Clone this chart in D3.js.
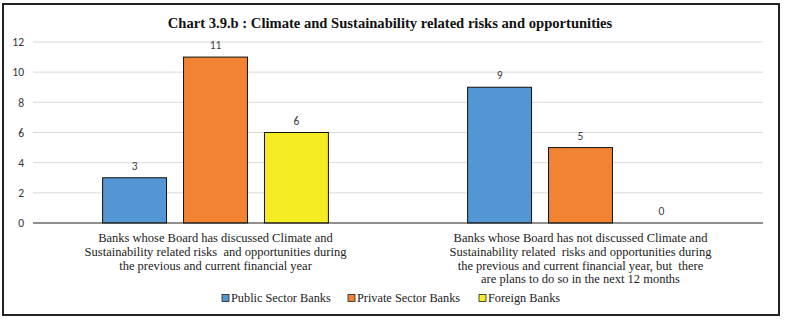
<!DOCTYPE html>
<html>
<head>
<meta charset="utf-8">
<script src="https://cdn.jsdelivr.net/npm/d3@7"></script>
<style>
  body { margin: 0; background: #fff; }
</style>
</head>
<body>
<div id="chart"></div>
<script>
// chart data
const categories = [
    ["Banks whose Board has discussed Climate and", "Sustainability related risks  and opportunities during", "the previous and current financial year"],
    ["Banks whose Board has not discussed Climate and", "Sustainability related  risks and opportunities during", "the previous and current financial year, but  there", "are plans to do so in the next 12 months"]
];
const seriesNames = ["Public Sector Banks", "Private Sector Banks", "Foreign Banks"];
const publicSector = [3, 9];
const privateSector = [11, 5];
const foreignBanks = [6, 0];
const yTicks = [0, 2, 4, 6, 8, 10, 12];
const colors = ["#5496d3", "#f28332", "#f5ec23"];

const seriesValues = [publicSector, privateSector, foreignBanks];

const width = 785, height = 321;
const margin = {top: 42, right: 22, bottom: 98, left: 33};

const svg = d3.select("#chart").append("svg")
    .attr("width", width)
    .attr("height", height);

// frame
svg.append("rect")
    .attr("x", 3).attr("y", 4)
    .attr("width", 776).attr("height", 311)
    .attr("fill", "none")
    .attr("stroke", "#222")
    .attr("stroke-width", 2);

// title
svg.append("text")
    .attr("x", 390)
    .attr("y", 28)
    .attr("text-anchor", "middle")
    .attr("font-family", "Liberation Serif, serif")
    .attr("font-weight", "bold")
    .attr("font-size", "14.6px")
    .attr("fill", "#111")
    .text("Chart 3.9.b : Climate and Sustainability related risks and opportunities");

const plotW = width - margin.left - margin.right;
const y = d3.scaleLinear()
    .domain([0, 12])
    .range([223, 42]);

const x0 = d3.scaleBand()
    .domain(d3.range(categories.length))
    .range([margin.left, margin.left + plotW])
    .padding(0);

const x1 = d3.scaleBand()
    .domain(d3.range(seriesNames.length))
    .range([0, x0.bandwidth()])
    .paddingInner(0.21)
    .paddingOuter(0.86);

// gridlines
svg.append("g")
    .selectAll("line")
    .data(yTicks.filter(d => d > 0))
    .enter().append("line")
    .attr("x1", margin.left)
    .attr("x2", margin.left + plotW)
    .attr("y1", d => y(d))
    .attr("y2", d => y(d))
    .attr("stroke", "#d9d9d9")
    .attr("stroke-width", 1);

// y axis labels
const yAxis = d3.axisLeft(y).tickValues(yTicks).tickSize(0).tickPadding(9);
const yg = svg.append("g")
    .attr("transform", `translate(${margin.left},0)`)
    .call(yAxis);
yg.select(".domain").remove();
yg.selectAll("text")
    .attr("font-family", "Carlito, Liberation Sans, sans-serif")
    .attr("font-size", "11.5px")
    .attr("fill", "#333");

// bars
const groups = svg.append("g")
    .selectAll("g")
    .data(categories.map((c, i) => i))
    .enter().append("g")
    .attr("transform", i => `translate(${x0(i)},0)`);

groups.selectAll("rect")
    .data(i => seriesValues.map((vals, s) => ({s: s, v: vals[i]})))
    .enter().append("rect")
    .filter(d => d.v > 0)
    .attr("x", d => x1(d.s))
    .attr("y", d => y(d.v))
    .attr("width", x1.bandwidth())
    .attr("height", d => y(0) - y(d.v))
    .attr("fill", d => colors[d.s])
    .attr("stroke", "#111")
    .attr("stroke-width", 1);

groups.selectAll("text.val")
    .data(i => seriesValues.map((vals, s) => ({s: s, v: vals[i]})))
    .enter().append("text")
    .attr("class", "val")
    .attr("x", d => x1(d.s) + x1.bandwidth() / 2)
    .attr("y", d => y(d.v) - 8)
    .attr("text-anchor", "middle")
    .attr("font-family", "Carlito, Liberation Sans, sans-serif")
    .attr("font-size", "11.5px")
    .attr("fill", "#404040")
    .text(d => d.v);

// x axis line
svg.append("line")
    .attr("x1", margin.left)
    .attr("x2", margin.left + plotW)
    .attr("y1", y(0))
    .attr("y2", y(0))
    .attr("stroke", "#222")
    .attr("stroke-width", 1.2);

// category labels
categories.forEach((lines, i) => {
    const t = svg.append("text")
        .attr("text-anchor", "middle")
        .attr("font-family", "Liberation Serif, serif")
        .attr("font-size", "12.5px")
        .attr("fill", "#222");
    lines.forEach((l, k) => {
        t.append("tspan")
            .attr("x", x0(i) + x0.bandwidth() / 2)
            .attr("y", 242 + k * 13.8)
            .attr("xml:space", "preserve")
            .text(l);
    });
});

// legend
const legendX = [222, 348, 479];
const legend = svg.append("g");
seriesNames.forEach((name, s) => {
    legend.append("rect")
        .attr("x", legendX[s])
        .attr("y", 294.5)
        .attr("width", 7)
        .attr("height", 7)
        .attr("fill", colors[s])
        .attr("stroke", "#222")
        .attr("stroke-width", 0.8);
    legend.append("text")
        .attr("x", legendX[s] + 9)
        .attr("y", 302)
        .attr("font-family", "Liberation Serif, serif")
        .attr("font-size", "12.3px")
        .attr("fill", "#222")
        .text(name);
});
</script>
</body>
</html>
